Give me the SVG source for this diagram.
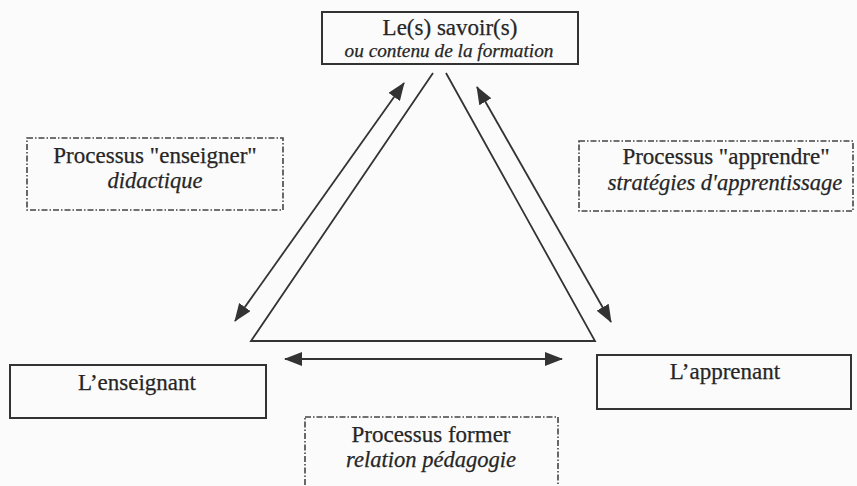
<svg xmlns="http://www.w3.org/2000/svg" width="857" height="486" viewBox="0 0 857 486">
  <style>
    .box { fill: none; stroke: #333; stroke-width: 2; }
    .dash { fill: none; stroke: #444; stroke-width: 1.6; stroke-dasharray: 6 2 1.5 2; }
    text { font-family: 'Liberation Serif', 'Times New Roman', serif; fill: #262626; stroke: #262626; stroke-width: 0.25; text-anchor: middle; }
    .r { font-size: 23px; }
    .i { font-size: 22.5px; font-style: italic; }
    .s { font-size: 19.3px; }
    .edge { stroke: #333; stroke-width: 1.8; fill: none; }
    .arr { stroke: #333; stroke-width: 1.8; fill: none; marker-start: url(#ah); marker-end: url(#ah); }
  </style>
  <defs>
    <marker id="ah" markerUnits="userSpaceOnUse" markerWidth="18" markerHeight="14" refX="17" refY="7" orient="auto-start-reverse" viewBox="0 0 18 14">
      <path d="M0,0 L18,7 L0,14 z" fill="#333"/>
    </marker>
  </defs>
  <rect width="857" height="486" fill="#fbfbfb"/>

  <g id="savoirs">
    <rect class="box" x="322" y="12" width="256" height="52"/>
    <text class="r" x="450" y="35">Le(s) savoir(s)</text>
    <text class="i s" x="449" y="57">ou contenu de la formation</text>
  </g>

  <g id="enseigner">
    <rect class="dash" x="27" y="138" width="256" height="72"/>
    <text class="r" x="155" y="163">Processus "enseigner"</text>
    <text class="i" x="155" y="188">didactique</text>
  </g>

  <g id="apprendre">
    <rect class="dash" x="579" y="141" width="274" height="70"/>
    <text class="r" x="726" y="164">Processus "apprendre"</text>
    <text class="i" x="725" y="190">stratégies d'apprentissage</text>
  </g>

  <g id="enseignant">
    <rect class="box" x="10" y="365" width="256" height="53"/>
    <text class="r" x="137" y="390">L’enseignant</text>
  </g>

  <g id="apprenant">
    <rect class="box" x="597" y="355" width="254" height="54"/>
    <text class="r" x="725" y="379">L’apprenant</text>
  </g>

  <g id="former">
    <rect class="dash" x="305" y="417" width="253" height="80"/>
    <text class="r" x="431" y="442">Processus former</text>
    <text class="i" x="431" y="467">relation pédagogie</text>
  </g>

  <g id="connectors">
    <path class="edge" d="M433,73 L251,341 L595,341 L446,73"/>
    <line class="arr" x1="404" y1="83" x2="235" y2="321"/>
    <line class="arr" x1="477" y1="87" x2="611" y2="322"/>
    <line class="arr" x1="285" y1="359" x2="562" y2="359"/>
  </g>
</svg>
